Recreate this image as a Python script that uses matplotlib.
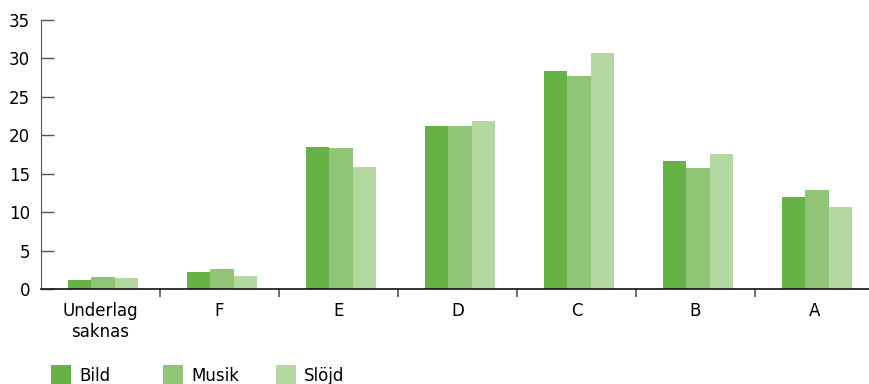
import numpy as np
import matplotlib
matplotlib.use("Agg")
import matplotlib.pyplot as plt
from matplotlib.patches import Rectangle

plt.rcParams['font.family'] = ['DejaVu Sans']

# Betygsfördelning per ämne (procent)
betyg = ['Underlag\nsaknas', 'F', 'E', 'D', 'C', 'B', 'A']
bild = [1.2, 2.2, 18.5, 21.2, 28.4, 16.7, 12.0]
musik = [1.5, 2.6, 18.4, 21.2, 27.7, 15.8, 12.9]
slojd = [1.4, 1.7, 15.9, 21.9, 30.7, 17.6, 10.7]

serier = ['Bild', 'Musik', 'Slöjd']
farger = ['#67b246', '#8fc574', '#b2d8a0']

fig = plt.figure(figsize=(8.7, 3.84), dpi=100)
ax = fig.add_axes([41 / 870, 95 / 384, 833 / 870, 269 / 384])

x = np.arange(len(betyg)) + 0.5
w = 0.197
for i, (vals, c) in enumerate(zip([bild, musik, slojd], farger)):
    ax.bar(x + (i - 1) * w + 0.02, vals, width=w, color=c, linewidth=0)

ax.set_xlim(0, len(betyg))
ax.set_ylim(0, 35)
ax.set_yticks(range(0, 36, 5))
ax.tick_params(axis='y', direction='in', length=9, width=1, color='#555555',
               labelsize=12, pad=8)

# Kategorigränser som ticks, etiketter i mitten
ax.set_xticks(np.arange(1, len(betyg)))
ax.set_xticklabels([])
ax.set_xticks(x, minor=True)
ax.set_xticklabels(betyg, minor=True, fontsize=12, linespacing=1.25)
ax.tick_params(axis='x', which='major', direction='out', length=6, width=1.2,
               color='#555555')
ax.tick_params(axis='x', which='minor', length=0, pad=9)

for s in ['top', 'right']:
    ax.spines[s].set_visible(False)
ax.spines['left'].set_color('#555555')
ax.spines['bottom'].set_color('#111111')
ax.spines['bottom'].set_linewidth(1.2)

# Förklaring längst ner
for i, (namn, c) in enumerate(zip(serier, farger)):
    x0 = (51 + i * 112.5) / 870
    fig.add_artist(Rectangle((x0, -0.01), 20 / 870, 19 / 384 + 0.01,
                             transform=fig.transFigure, color=c, lw=0))
    fig.text(x0 + 28 / 870, 3 / 384, namn, fontsize=12, va='baseline')

fig.savefig('out.png', dpi=100)
